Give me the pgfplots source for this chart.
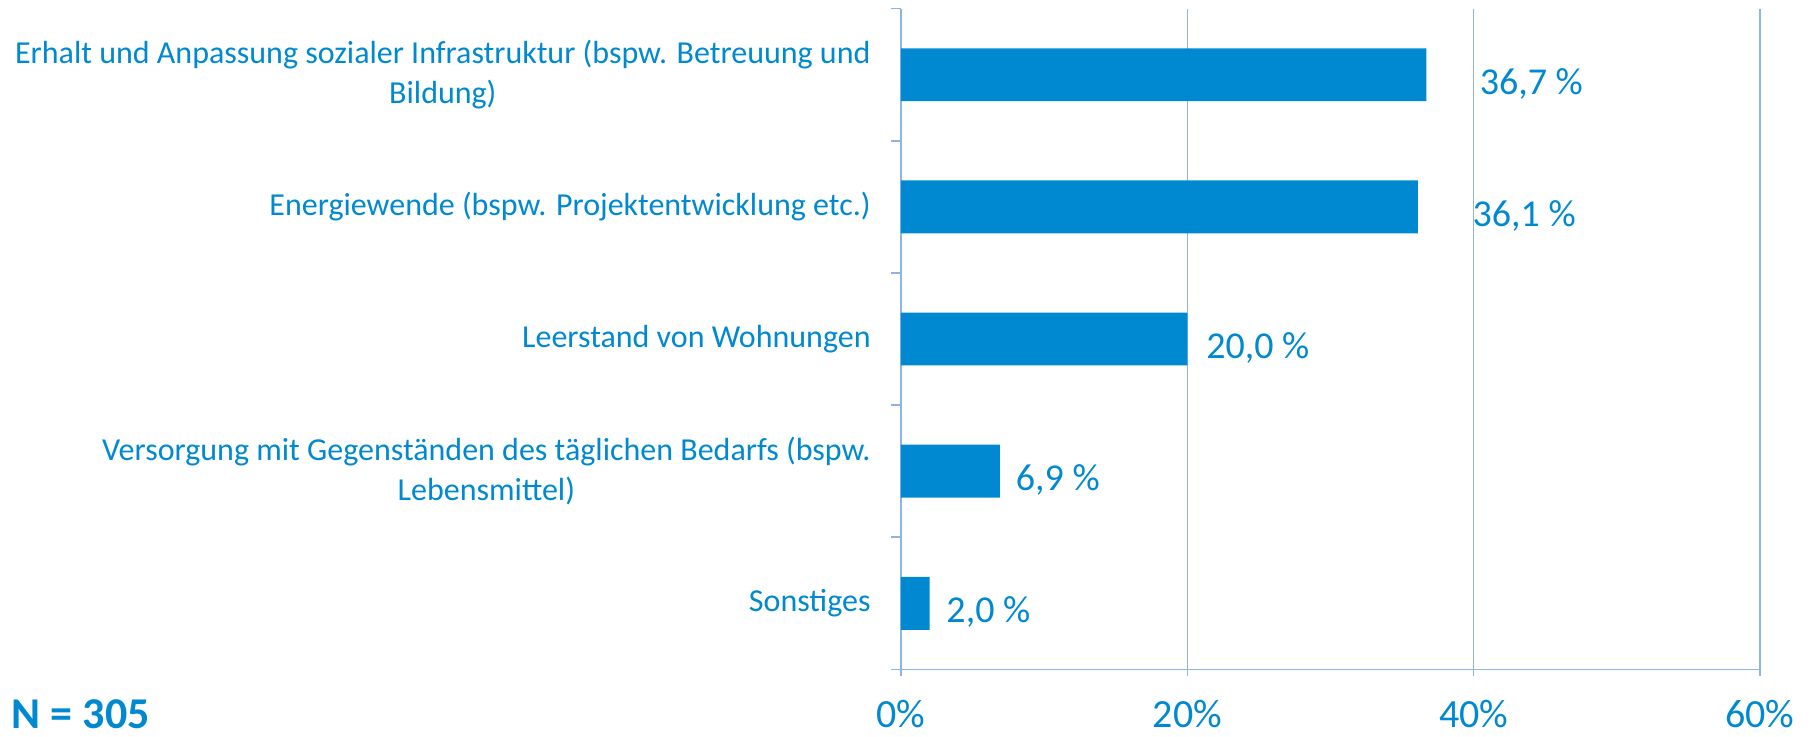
\documentclass[border=0pt]{standalone}
\usepackage{pgfplots}
\pgfplotsset{compat=1.18}
\usepackage{fontspec}
\setmainfont{Carlito}
\definecolor{barblue}{RGB}{0,137,209}
\definecolor{gridblue}{RGB}{141,180,226}
\begin{document}
\begin{tikzpicture}
\useasboundingbox (0,0) rectangle (905pt,368pt);
\begin{axis}[
  at={(450.5pt,33.3pt)}, anchor=south west,
  scale only axis, width=429.5pt, height=330.4pt,
  xmin=0, xmax=60, ymin=-0.5, ymax=4.5,
  axis lines*=left,
  axis line style={gridblue, line width=0.75pt},
  xtick={0,20,40,60}, xticklabels={0\%,20\%,40\%,60\%},
  xmajorgrids, grid style={gridblue, line width=0.75pt},
  tick align=outside,
  xtick style={draw=gridblue, line width=0.75pt},
  major tick length=3.5pt,
  xticklabel style={font=\fontsize{20}{24}\selectfont, text=barblue, anchor=center, inner sep=0pt, yshift=-19pt},
  ytick={0,1,2,3,4},
  yticklabels={
    {Sonstiges},
    {Versorgung mit Gegenständen des täglichen Bedarfs (bspw.\\Lebensmittel)},
    {Leerstand von Wohnungen},
    {Energiewende (bspw. Projektentwicklung etc.)},
    {Erhalt und Anpassung sozialer Infrastruktur (bspw. Betreuung und\\Bildung)}
  },
  ytick style={draw=none},
  yticklabel style={font=\fontsize{16}{20}\selectfont, text=barblue, align=center, inner sep=0pt, xshift=-11.5pt},
  extra y ticks={-0.5,0.5,1.5,2.5,3.5,4.5},
  extra y tick labels={},
  extra y tick style={ytick style={draw=gridblue, line width=0.75pt}, major tick length=5pt},
  clip=false,
]
\addplot[xbar, bar width=0.4, fill=barblue, draw=none, forget plot]
  coordinates {(36.7,4) (36.1,3) (20.0,2) (6.9,1) (2.0,0)};
\addplot[only marks, mark=none, forget plot,
  nodes near coords, point meta=explicit symbolic,
  nodes near coords style={anchor=west, inner sep=0pt, yshift=-4.5pt, font=\fontsize{19}{23}\selectfont, text=barblue}]
  coordinates {(40.4,4) [36,7 \%] (39.9,3) [36,1 \%] (21.3,2) [20,0 \%] (8.0,1) [6,9 \%] (3.15,0) [2,0 \%]};
\end{axis}
\node[anchor=west, inner sep=0pt, text=barblue, font=\fontsize{22}{26}\selectfont\bfseries] at (5.75pt,11pt) {N = 305};
\end{tikzpicture}
\end{document}
